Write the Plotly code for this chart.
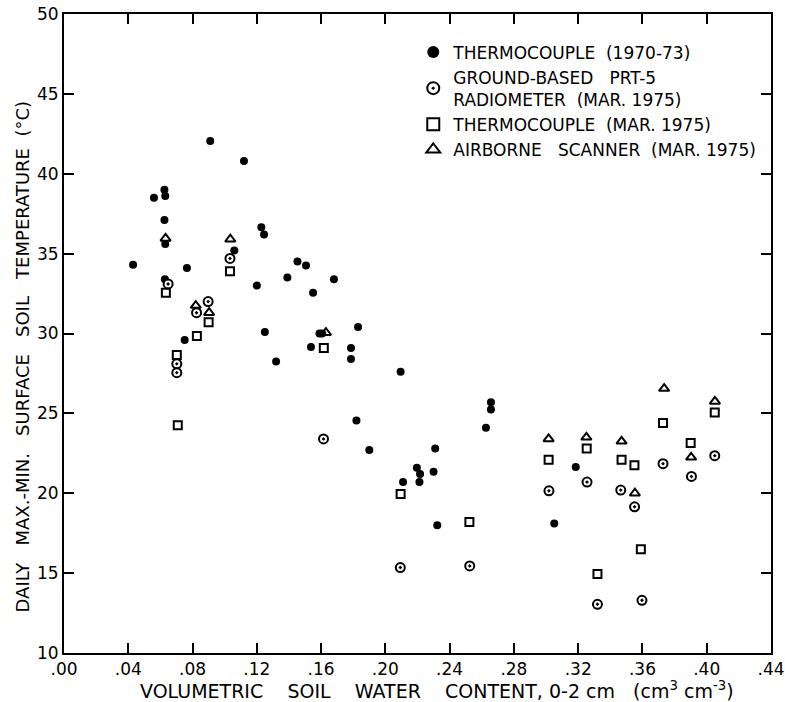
import plotly.graph_objects as go

# Thermocouple (1970-73)
tc70_x = [0.043, 0.056, 0.0625, 0.063, 0.0625, 0.063, 0.0628, 0.0751, 0.0765, 0.091,
          0.106, 0.112, 0.120, 0.1228, 0.1245, 0.125, 0.132, 0.139, 0.1453, 0.1506,
          0.1537, 0.155, 0.159, 0.1607, 0.168, 0.1786, 0.1786, 0.183, 0.182, 0.190,
          0.2095, 0.211, 0.2196, 0.2216, 0.2212, 0.230, 0.231, 0.2323, 0.2626, 0.2657,
          0.2657, 0.3185, 0.3051]
tc70_y = [34.3, 38.5, 39.0, 38.6, 37.1, 35.6, 33.4, 29.6, 34.1, 42.05,
          35.2, 40.8, 33.0, 36.65, 36.2, 30.1, 28.25, 33.5, 34.5, 34.25,
          29.15, 32.55, 30.0, 30.0, 33.4, 29.1, 28.4, 30.4, 24.55, 22.7,
          27.6, 20.7, 21.6, 21.2, 20.7, 21.35, 22.8, 18.0, 24.1, 25.7,
          25.25, 21.65, 18.1]

# Ground-based PRT-5 radiometer (Mar. 1975)
prt_x = [0.0648, 0.0702, 0.0702, 0.0825, 0.0897, 0.1033, 0.1615, 0.2093, 0.2525,
         0.3018, 0.3255, 0.3465, 0.3551, 0.3728, 0.3905, 0.405, 0.332, 0.3597]
prt_y = [33.1, 28.1, 27.55, 31.3, 32.0, 34.7, 23.4, 15.35, 15.45,
         20.15, 20.7, 20.2, 19.15, 21.85, 21.05, 22.35, 13.05, 13.3]

# Thermocouple (Mar. 1975)
tc75_x = [0.0634, 0.0702, 0.0708, 0.0827, 0.090, 0.1033, 0.1617, 0.2095, 0.2523,
          0.3016, 0.3253, 0.347, 0.355, 0.359, 0.332, 0.3728, 0.390, 0.405]
tc75_y = [32.55, 28.65, 24.25, 29.85, 30.7, 33.9, 29.1, 19.95, 18.2,
          22.1, 22.8, 22.1, 21.75, 16.5, 14.95, 24.4, 23.15, 25.05]

# Airborne scanner (Mar. 1975)
air_x = [0.0632, 0.082, 0.0903, 0.1035, 0.163, 0.3016, 0.3251, 0.347, 0.3553,
         0.3735, 0.3903, 0.4051]
air_y = [35.95, 31.75, 31.3, 35.9, 30.05, 23.4, 23.5, 23.25, 20.0,
         26.55, 22.25, 25.75]

x_tickvals = [0.00, 0.04, 0.08, 0.12, 0.16, 0.20, 0.24, 0.28, 0.32, 0.36, 0.40, 0.44]
x_ticktext = [".00", ".04", ".08", ".12", ".16", ".20", ".24", ".28", ".32", ".36", ".40", ".44"]
y_tickvals = [10, 15, 20, 25, 30, 35, 40, 45, 50]

x_title = "VOLUMETRIC    SOIL    WATER    CONTENT, 0-2 cm   (cm<sup>3</sup> cm<sup>-3</sup>)"
y_title = "DAILY   MAX.-MIN.   SURFACE   SOIL   TEMPERATURE  (°C)"

FONT = "DejaVu Sans"

fig = go.Figure()
fig.add_trace(go.Scatter(x=tc70_x, y=tc70_y, mode="markers", name="THERMOCOUPLE  (1970-73)",
                         legendgroup="a",
                         marker=dict(symbol="circle", size=8, color="black")))
fig.add_trace(go.Scatter(x=prt_x, y=prt_y, mode="markers",
                         name="GROUND-BASED   PRT-5<br>RADIOMETER  (MAR. 1975)",
                         legendgroup="b",
                         marker=dict(symbol="circle-dot", size=9, color="white",
                                     line=dict(color="black", width=2))))
fig.add_trace(go.Scatter(x=tc75_x, y=tc75_y, mode="markers", name="THERMOCOUPLE  (MAR. 1975)",
                         legendgroup="c",
                         marker=dict(symbol="square-open", size=8, color="black",
                                     line=dict(color="black", width=2))))
fig.add_trace(go.Scatter(x=air_x, y=air_y, mode="markers", name="AIRBORNE   SCANNER  (MAR. 1975)",
                         legendgroup="d",
                         marker=dict(symbol="triangle-up-open", size=9, color="black",
                                     line=dict(color="black", width=2))))

fig.update_layout(
    width=785, height=702,
    margin=dict(l=64, r=14, t=14, b=49, autoexpand=False),
    paper_bgcolor="white", plot_bgcolor="white",
    font=dict(family=FONT, size=17, color="black"),
    showlegend=True,
    legend=dict(x=0.494, y=0.968, xanchor="left", yanchor="top",
                bgcolor="rgba(0,0,0,0)", font=dict(family=FONT, size=17, color="black"),
                tracegroupgap=0, itemsizing="constant"),
    annotations=[
        dict(text=x_title, xref="paper", yref="paper", x=0.527, y=-0.058,
             xanchor="center", yanchor="middle", showarrow=False,
             font=dict(family=FONT, size=19, color="black")),
        dict(text=y_title, xref="paper", yref="paper", x=-0.059, y=0.463,
             xanchor="center", yanchor="middle", showarrow=False, textangle=-90,
             font=dict(family=FONT, size=18, color="black")),
    ],
)
fig.update_xaxes(range=[0, 0.44], tickvals=x_tickvals, ticktext=x_ticktext,
                 showline=True, linecolor="black", linewidth=2, mirror="ticks",
                 ticks="inside", ticklen=10, tickwidth=2, tickcolor="black",
                 showgrid=False, zeroline=False, ticklabeloverflow="allow",
                 automargin=False, tickfont=dict(family=FONT, size=17))
fig.update_yaxes(range=[10, 50], tickvals=y_tickvals,
                 showline=True, linecolor="black", linewidth=2, mirror="ticks",
                 ticks="inside", ticklen=10, tickwidth=2, tickcolor="black",
                 showgrid=False, zeroline=False, automargin=False,
                 tickfont=dict(family=FONT, size=17))

fig.write_html("out.html")
